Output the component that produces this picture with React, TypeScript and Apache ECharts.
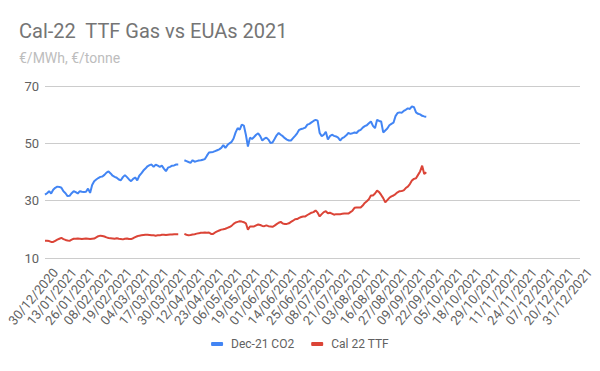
import React, { useEffect, useRef } from "react";
import * as echarts from "echarts";

const TITLE = "Cal-22  TTF Gas vs EUAs 2021";
const SUBTITLE = "€/MWh, €/tonne";
const SERIES_NAMES = ["Dec-21 CO2", "Cal 22 TTF"];
const Y_TICKS = [10, 30, 50, 70];

// Weekday trading dates 30/12/2020 .. 31/12/2021 (New Year's Day excluded)
function buildDates(): string[] {
  const out: string[] = [];
  const d = new Date(Date.UTC(2020, 11, 30));
  const end = Date.UTC(2021, 11, 31);
  while (d.getTime() <= end) {
    const wd = d.getUTCDay();
    const isNY = d.getUTCMonth() === 0 && d.getUTCDate() === 1;
    if (wd !== 0 && wd !== 6 && !isNY) {
      const dd = String(d.getUTCDate()).padStart(2, "0");
      const mm = String(d.getUTCMonth() + 1).padStart(2, "0");
      out.push(`${dd}/${mm}/${d.getUTCFullYear()}`);
    }
    d.setUTCDate(d.getUTCDate() + 1);
  }
  return out;
}
const categories = buildDates();

const co2Dec21: (number | null)[] = [
  32.1, 32.6, 33.3, 32.5, 33.8, 34.5, 34.9, 34.8, 34.5, 33.3,
  32.6, 31.6, 31.7, 32.6, 33.3, 33.0, 32.5, 33.3, 33.1, 33.0,
  33.1, 34.2, 32.7, 35.5, 36.8, 37.4, 37.9, 38.3, 38.4, 39.0,
  39.8, 40.2, 39.5, 38.7, 38.3, 38.0, 37.4, 37.1, 38.2, 38.9,
  38.2, 37.4, 36.8, 37.6, 38.1, 37.1, 38.7, 39.5, 40.5, 41.2,
  42.0, 42.4, 42.6, 41.8, 42.6, 42.2, 41.8, 42.2, 41.2, 40.3,
  41.5, 41.8, 42.2, 42.3, 42.6, 42.6, null, null, 44.1, 43.8,
  43.5, 43.2, 44.1, 43.6, 43.8, 44.0, 44.1, 44.3, 44.5, 45.7,
  46.8, 46.9, 47.0, 47.3, 47.6, 47.9, 48.4, 49.4, 48.4, 49.4,
  50.0, 50.5, 51.7, 53.8, 55.3, 54.8, 56.5, 56.2, 53.0, 48.9,
  52.0, 51.5, 52.2, 53.0, 53.5, 52.5, 51.0, 51.6, 52.0, 51.3,
  50.1, 50.3, 51.5, 52.8, 53.6, 53.0, 52.5, 51.8, 51.3, 51.0,
  51.0, 51.8, 52.6, 53.5, 54.7, 55.0, 55.2, 55.5, 56.5, 56.8,
  57.3, 57.8, 58.2, 57.9, 53.6, 52.5, 53.0, 54.0, 51.3, 52.5,
  53.0, 52.6, 52.4, 52.0, 51.0, 51.8, 52.2, 52.8, 53.6, 53.3,
  53.5, 53.8, 53.6, 54.4, 54.7, 55.5, 56.0, 56.3, 57.0, 57.6,
  56.1, 55.3, 58.2, 57.8, 57.6, 53.8, 54.5, 55.2, 56.3, 56.8,
  57.2, 59.5, 60.6, 60.8, 60.7, 61.3, 61.7, 62.2, 62.0, 62.9,
  62.6, 60.8, 60.3, 60.1, 59.6, 59.4, 59.3,
];

const ttfCal22: (number | null)[] = [
  16.0, 16.0, 15.9, 15.6, 15.6, 16.0, 16.4, 16.7, 17.0, 16.6,
  16.3, 16.1, 16.0, 16.4, 16.7, 16.7, 16.8, 16.7, 16.6, 16.7,
  16.8, 16.7, 16.6, 16.7, 16.8, 17.2, 17.6, 17.8, 17.7, 17.5,
  17.2, 17.0, 16.9, 16.8, 16.7, 16.9, 16.7, 16.6, 16.5, 16.7,
  16.8, 16.6, 16.6, 16.9, 17.3, 17.6, 17.8, 17.9, 18.0, 18.1,
  18.1, 18.0, 17.9, 17.9, 17.8, 17.9, 17.9, 18.1, 18.1, 18.0,
  18.1, 18.2, 18.2, 18.3, 18.3, 18.3, null, null, 18.4, 18.1,
  17.9, 18.0, 18.2, 18.3, 18.5, 18.6, 18.8, 18.8, 18.9, 18.8,
  18.9, 18.4, 18.4, 18.9, 19.3, 19.6, 19.9, 20.0, 20.2, 20.5,
  20.8, 21.2, 21.9, 22.4, 22.6, 22.8, 22.7, 22.5, 22.1, 19.9,
  21.0, 21.0, 21.0, 21.4, 21.7, 21.5, 21.2, 21.1, 21.4, 21.1,
  21.0, 20.9, 21.3, 21.8, 22.3, 22.6, 22.0, 21.9, 21.9, 22.1,
  22.6, 23.0, 23.5, 23.6, 24.0, 24.3, 24.5, 24.5, 25.0, 25.4,
  25.8, 26.0, 26.6, 25.8, 24.5, 25.3, 26.0, 26.3, 25.6, 25.8,
  25.5, 25.1, 25.3, 25.3, 25.3, 25.4, 25.5, 25.5, 25.5, 26.0,
  26.5, 27.5, 27.6, 27.6, 27.6, 28.3, 29.2, 29.8, 30.5, 31.8,
  31.8, 32.5, 33.5, 33.0, 32.0, 30.9, 29.4, 30.2, 31.0, 31.5,
  31.8, 32.3, 32.9, 33.3, 33.4, 33.6, 34.4, 34.9, 35.8, 37.0,
  37.6, 37.8, 39.0, 40.2, 42.2, 39.3, 39.9,
];

const FONT = "Roboto";
const LABEL_COLOR = "#616161";

export default function App() {
  const ref = useRef<HTMLDivElement>(null);
  useEffect(() => {
    document.body.style.margin = "0";
    const chart = echarts.init(ref.current!, undefined, { renderer: "svg" });
    chart.setOption({
      animation: false,
      backgroundColor: "#ffffff",
      title: {
        text: TITLE,
        subtext: SUBTITLE,
        left: 19,
        top: 21,
        padding: 0,
        itemGap: 10,
        textStyle: { fontFamily: FONT, fontSize: 20, fontWeight: "normal", color: "#757575" },
        subtextStyle: { fontFamily: FONT, fontSize: 14, color: "#bdbdbd" },
      },
      legend: {
        data: SERIES_NAMES,
        bottom: 16,
        left: "center",
        icon: "roundRect",
        itemWidth: 12,
        itemHeight: 4,
        itemGap: 17,
        textStyle: { fontFamily: FONT, fontSize: 12, color: LABEL_COLOR, padding: [0, 0, 0, 3] },
      },
      grid: [
        { left: 45, right: 20, top: 86, bottom: 113 },
        // label-only grid: Google-style slanted labels sit slightly right of their tick
        { left: 55.5, right: 10.5, top: 86, bottom: 113 },
      ],
      xAxis: [
        {
          type: "category",
          gridIndex: 0,
          data: categories,
          boundaryGap: false,
          axisLine: { show: false },
          axisTick: { show: false },
          axisLabel: { show: false },
          splitLine: { show: false },
        },
        {
          type: "category",
          gridIndex: 1,
          data: categories,
          boundaryGap: false,
          axisLine: { show: false },
          axisTick: { show: false },
          splitLine: { show: false },
          axisLabel: {
            rotate: 50,
            interval: 8,
            fontFamily: FONT,
            fontSize: 13,
            color: LABEL_COLOR,
            margin: 12,
          },
        },
      ],
      yAxis: [
        {
          type: "value",
          gridIndex: 0,
          min: Y_TICKS[0],
          max: Y_TICKS[Y_TICKS.length - 1],
          interval: 20,
          axisLine: { show: false },
          axisTick: { show: false },
          axisLabel: { fontFamily: FONT, fontSize: 13, color: LABEL_COLOR, margin: 6 },
          splitLine: { lineStyle: { color: "#cccccc", width: 1 } },
        },
        {
          type: "value",
          gridIndex: 1,
          min: Y_TICKS[0],
          max: Y_TICKS[Y_TICKS.length - 1],
          interval: 20,
          show: false,
          splitLine: { show: false },
        },
      ],
      series: [
        {
          name: SERIES_NAMES[0],
          type: "line",
          xAxisIndex: 0,
          yAxisIndex: 0,
          data: co2Dec21,
          showSymbol: false,
          connectNulls: false,
          itemStyle: { color: "#4285F4" },
          lineStyle: { color: "#4285F4", width: 2 },
        },
        {
          name: SERIES_NAMES[1],
          type: "line",
          xAxisIndex: 0,
          yAxisIndex: 0,
          data: ttfCal22,
          showSymbol: false,
          connectNulls: false,
          itemStyle: { color: "#DB4437" },
          lineStyle: { color: "#DB4437", width: 2 },
        },
      ],
    });
    return () => chart.dispose();
  }, []);
  return (
    <div
      ref={ref}
      style={{ position: "fixed", left: 0, top: 0, width: 600, height: 371 }}
    />
  );
}
